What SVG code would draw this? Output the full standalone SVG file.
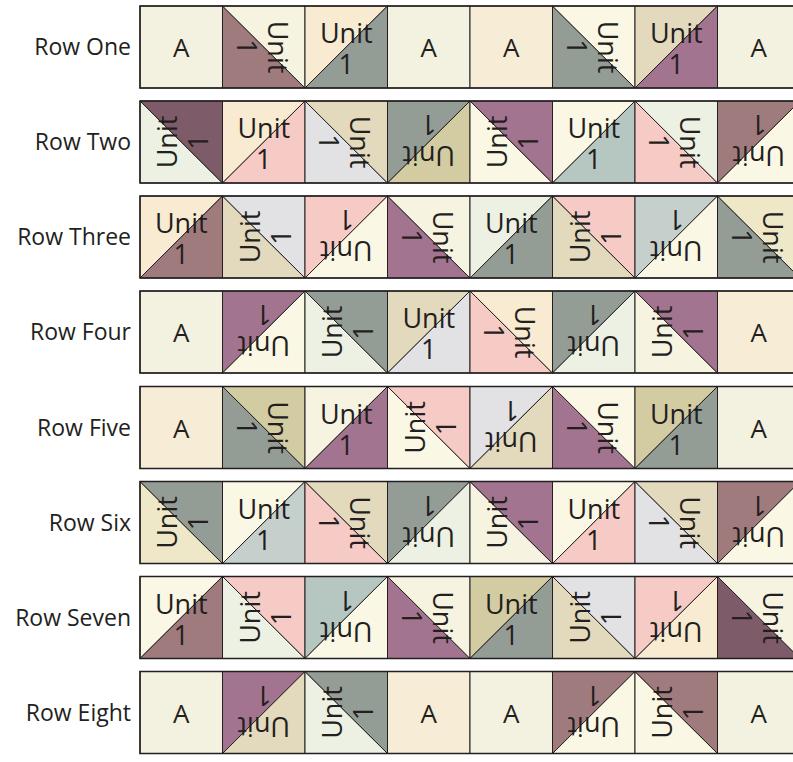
<svg xmlns="http://www.w3.org/2000/svg" width="793" height="762" viewBox="0 0 793 762">
<style>
.p{stroke:#231f20;stroke-width:1;stroke-linejoin:round}
.o{fill:none;stroke:#231f20;stroke-width:1}
.f{fill:none;stroke:#231f20;stroke-width:1.5}
.t{font-family:"Open Sans","Liberation Sans",sans-serif;font-size:27px;text-anchor:middle;fill:#231f20}
.a{font-family:"Open Sans","Liberation Sans",sans-serif;font-size:26px;text-anchor:middle;fill:#231f20}
.l{font-family:"Open Sans","Liberation Sans",sans-serif;font-size:23px;text-anchor:end;fill:#231f20}
.cr{fill:#f3f1df}.pc{fill:#f7ecd6}.mb{fill:#a07b7e}.gg{fill:#939d96}.pu{fill:#a3748f}.dp{fill:#7e5b68}
.tn{fill:#e3d9bc}.kh{fill:#d3cca2}.ly{fill:#faf8e4}.lg{fill:#edf1e3}.pk{fill:#f6cac5}.gr{fill:#e2e2e4}
.sb{fill:#b5c7c0}.gb{fill:#c5d0cd}.pe{fill:#f8ebd1}.lk{fill:#eee7c8}.lc{fill:#f6f3e0}
</style>

<g id="row1" transform="translate(0,6)">
<text class="l" x="131" y="49">Row One</text>
<g id="r1c1" transform="translate(140,0)"><rect class="cr" width="82.5" height="82"/><rect class="o" width="82.5" height="82"/><text class="a" x="41.25" y="51">A</text></g>
<g id="r1c2" transform="translate(222.5,0)"><polygon class="p mb" points="0,0 0,82 82.5,82"/><polygon class="p lc" points="0,0 82.5,0 82.5,82"/><g transform="rotate(90 41.25 41)"><text class="t" x="41.25" y="37">Unit</text><text class="t" x="41.25" y="68">1</text></g></g>
<g id="r1c3" transform="translate(305,0)"><polygon class="p pe" points="0,0 82.5,0 0,82"/><polygon class="p gg" points="82.5,0 82.5,82 0,82"/><text class="t" x="41.25" y="37">Unit</text><text class="t" x="41.25" y="68">1</text></g>
<g id="r1c4" transform="translate(387.5,0)"><rect class="cr" width="82.5" height="82"/><rect class="o" width="82.5" height="82"/><text class="a" x="41.25" y="51">A</text></g>
<g id="r1c5" transform="translate(470,0)"><rect class="pc" width="82.5" height="82"/><rect class="o" width="82.5" height="82"/><text class="a" x="41.25" y="51">A</text></g>
<g id="r1c6" transform="translate(552.5,0)"><polygon class="p gg" points="0,0 0,82 82.5,82"/><polygon class="p ly" points="0,0 82.5,0 82.5,82"/><g transform="rotate(90 41.25 41)"><text class="t" x="41.25" y="37">Unit</text><text class="t" x="41.25" y="68">1</text></g></g>
<g id="r1c7" transform="translate(635,0)"><polygon class="p tn" points="0,0 82.5,0 0,82"/><polygon class="p pu" points="82.5,0 82.5,82 0,82"/><text class="t" x="41.25" y="37">Unit</text><text class="t" x="41.25" y="68">1</text></g>
<g id="r1c8" transform="translate(717.5,0)"><rect class="cr" width="82.5" height="82"/><rect class="o" width="82.5" height="82"/><text class="a" x="41.25" y="51">A</text></g>
<rect class="f" x="140" y="0" width="660" height="82"/>
</g>

<g id="row2" transform="translate(0,101)">
<text class="l" x="131" y="49">Row Two</text>
<g id="r2c1" transform="translate(140,0)"><polygon class="p lg" points="0,0 0,82 82.5,82"/><polygon class="p dp" points="0,0 82.5,0 82.5,82"/><g transform="rotate(-90 41.25 41)"><text class="t" x="41.25" y="37">Unit</text><text class="t" x="41.25" y="68">1</text></g></g>
<g id="r2c2" transform="translate(222.5,0)"><polygon class="p pe" points="0,0 82.5,0 0,82"/><polygon class="p pk" points="82.5,0 82.5,82 0,82"/><text class="t" x="41.25" y="37">Unit</text><text class="t" x="41.25" y="68">1</text></g>
<g id="r2c3" transform="translate(305,0)"><polygon class="p gr" points="0,0 0,82 82.5,82"/><polygon class="p tn" points="0,0 82.5,0 82.5,82"/><g transform="rotate(90 41.25 41)"><text class="t" x="41.25" y="37">Unit</text><text class="t" x="41.25" y="68">1</text></g></g>
<g id="r2c4" transform="translate(387.5,0)"><polygon class="p gg" points="0,0 82.5,0 0,82"/><polygon class="p kh" points="82.5,0 82.5,82 0,82"/><g transform="rotate(180 41.25 41)"><text class="t" x="41.25" y="37">Unit</text><text class="t" x="41.25" y="68">1</text></g></g>
<g id="r2c5" transform="translate(470,0)"><polygon class="p ly" points="0,0 0,82 82.5,82"/><polygon class="p pu" points="0,0 82.5,0 82.5,82"/><g transform="rotate(-90 41.25 41)"><text class="t" x="41.25" y="37">Unit</text><text class="t" x="41.25" y="68">1</text></g></g>
<g id="r2c6" transform="translate(552.5,0)"><polygon class="p ly" points="0,0 82.5,0 0,82"/><polygon class="p sb" points="82.5,0 82.5,82 0,82"/><text class="t" x="41.25" y="37">Unit</text><text class="t" x="41.25" y="68">1</text></g>
<g id="r2c7" transform="translate(635,0)"><polygon class="p pk" points="0,0 0,82 82.5,82"/><polygon class="p lg" points="0,0 82.5,0 82.5,82"/><g transform="rotate(90 41.25 41)"><text class="t" x="41.25" y="37">Unit</text><text class="t" x="41.25" y="68">1</text></g></g>
<g id="r2c8" transform="translate(717.5,0)"><polygon class="p mb" points="0,0 82.5,0 0,82"/><polygon class="p ly" points="82.5,0 82.5,82 0,82"/><g transform="rotate(180 41.25 41)"><text class="t" x="41.25" y="37">Unit</text><text class="t" x="41.25" y="68">1</text></g></g>
<rect class="f" x="140" y="0" width="660" height="82"/>
</g>

<g id="row3" transform="translate(0,196)">
<text class="l" x="131" y="49">Row Three</text>
<g id="r3c1" transform="translate(140,0)"><polygon class="p pe" points="0,0 82.5,0 0,82"/><polygon class="p mb" points="82.5,0 82.5,82 0,82"/><text class="t" x="41.25" y="37">Unit</text><text class="t" x="41.25" y="68">1</text></g>
<g id="r3c2" transform="translate(222.5,0)"><polygon class="p tn" points="0,0 0,82 82.5,82"/><polygon class="p gr" points="0,0 82.5,0 82.5,82"/><g transform="rotate(-90 41.25 41)"><text class="t" x="41.25" y="37">Unit</text><text class="t" x="41.25" y="68">1</text></g></g>
<g id="r3c3" transform="translate(305,0)"><polygon class="p pk" points="0,0 82.5,0 0,82"/><polygon class="p ly" points="82.5,0 82.5,82 0,82"/><g transform="rotate(180 41.25 41)"><text class="t" x="41.25" y="37">Unit</text><text class="t" x="41.25" y="68">1</text></g></g>
<g id="r3c4" transform="translate(387.5,0)"><polygon class="p pu" points="0,0 0,82 82.5,82"/><polygon class="p lc" points="0,0 82.5,0 82.5,82"/><g transform="rotate(90 41.25 41)"><text class="t" x="41.25" y="37">Unit</text><text class="t" x="41.25" y="68">1</text></g></g>
<g id="r3c5" transform="translate(470,0)"><polygon class="p lg" points="0,0 82.5,0 0,82"/><polygon class="p gg" points="82.5,0 82.5,82 0,82"/><text class="t" x="41.25" y="37">Unit</text><text class="t" x="41.25" y="68">1</text></g>
<g id="r3c6" transform="translate(552.5,0)"><polygon class="p tn" points="0,0 0,82 82.5,82"/><polygon class="p pk" points="0,0 82.5,0 82.5,82"/><g transform="rotate(-90 41.25 41)"><text class="t" x="41.25" y="37">Unit</text><text class="t" x="41.25" y="68">1</text></g></g>
<g id="r3c7" transform="translate(635,0)"><polygon class="p gb" points="0,0 82.5,0 0,82"/><polygon class="p ly" points="82.5,0 82.5,82 0,82"/><g transform="rotate(180 41.25 41)"><text class="t" x="41.25" y="37">Unit</text><text class="t" x="41.25" y="68">1</text></g></g>
<g id="r3c8" transform="translate(717.5,0)"><polygon class="p gg" points="0,0 0,82 82.5,82"/><polygon class="p lk" points="0,0 82.5,0 82.5,82"/><g transform="rotate(90 41.25 41)"><text class="t" x="41.25" y="37">Unit</text><text class="t" x="41.25" y="68">1</text></g></g>
<rect class="f" x="140" y="0" width="660" height="82"/>
</g>

<g id="row4" transform="translate(0,291)">
<text class="l" x="131" y="49">Row Four</text>
<g id="r4c1" transform="translate(140,0)"><rect class="cr" width="82.5" height="82"/><rect class="o" width="82.5" height="82"/><text class="a" x="41.25" y="51">A</text></g>
<g id="r4c2" transform="translate(222.5,0)"><polygon class="p pu" points="0,0 82.5,0 0,82"/><polygon class="p ly" points="82.5,0 82.5,82 0,82"/><g transform="rotate(180 41.25 41)"><text class="t" x="41.25" y="37">Unit</text><text class="t" x="41.25" y="68">1</text></g></g>
<g id="r4c3" transform="translate(305,0)"><polygon class="p lg" points="0,0 0,82 82.5,82"/><polygon class="p gg" points="0,0 82.5,0 82.5,82"/><g transform="rotate(-90 41.25 41)"><text class="t" x="41.25" y="37">Unit</text><text class="t" x="41.25" y="68">1</text></g></g>
<g id="r4c4" transform="translate(387.5,0)"><polygon class="p tn" points="0,0 82.5,0 0,82"/><polygon class="p gr" points="82.5,0 82.5,82 0,82"/><text class="t" x="41.25" y="37">Unit</text><text class="t" x="41.25" y="68">1</text></g>
<g id="r4c5" transform="translate(470,0)"><polygon class="p pk" points="0,0 0,82 82.5,82"/><polygon class="p pe" points="0,0 82.5,0 82.5,82"/><g transform="rotate(90 41.25 41)"><text class="t" x="41.25" y="37">Unit</text><text class="t" x="41.25" y="68">1</text></g></g>
<g id="r4c6" transform="translate(552.5,0)"><polygon class="p gg" points="0,0 82.5,0 0,82"/><polygon class="p lg" points="82.5,0 82.5,82 0,82"/><g transform="rotate(180 41.25 41)"><text class="t" x="41.25" y="37">Unit</text><text class="t" x="41.25" y="68">1</text></g></g>
<g id="r4c7" transform="translate(635,0)"><polygon class="p lc" points="0,0 0,82 82.5,82"/><polygon class="p pu" points="0,0 82.5,0 82.5,82"/><g transform="rotate(-90 41.25 41)"><text class="t" x="41.25" y="37">Unit</text><text class="t" x="41.25" y="68">1</text></g></g>
<g id="r4c8" transform="translate(717.5,0)"><rect class="pc" width="82.5" height="82"/><rect class="o" width="82.5" height="82"/><text class="a" x="41.25" y="51">A</text></g>
<rect class="f" x="140" y="0" width="660" height="82"/>
</g>

<g id="row5" transform="translate(0,386.5)">
<text class="l" x="131" y="49">Row Five</text>
<g id="r5c1" transform="translate(140,0)"><rect class="pc" width="82.5" height="82"/><rect class="o" width="82.5" height="82"/><text class="a" x="41.25" y="51">A</text></g>
<g id="r5c2" transform="translate(222.5,0)"><polygon class="p gg" points="0,0 0,82 82.5,82"/><polygon class="p kh" points="0,0 82.5,0 82.5,82"/><g transform="rotate(90 41.25 41)"><text class="t" x="41.25" y="37">Unit</text><text class="t" x="41.25" y="68">1</text></g></g>
<g id="r5c3" transform="translate(305,0)"><polygon class="p lc" points="0,0 82.5,0 0,82"/><polygon class="p pu" points="82.5,0 82.5,82 0,82"/><text class="t" x="41.25" y="37">Unit</text><text class="t" x="41.25" y="68">1</text></g>
<g id="r5c4" transform="translate(387.5,0)"><polygon class="p ly" points="0,0 0,82 82.5,82"/><polygon class="p pk" points="0,0 82.5,0 82.5,82"/><g transform="rotate(-90 41.25 41)"><text class="t" x="41.25" y="37">Unit</text><text class="t" x="41.25" y="68">1</text></g></g>
<g id="r5c5" transform="translate(470,0)"><polygon class="p gr" points="0,0 82.5,0 0,82"/><polygon class="p tn" points="82.5,0 82.5,82 0,82"/><g transform="rotate(180 41.25 41)"><text class="t" x="41.25" y="37">Unit</text><text class="t" x="41.25" y="68">1</text></g></g>
<g id="r5c6" transform="translate(552.5,0)"><polygon class="p pu" points="0,0 0,82 82.5,82"/><polygon class="p ly" points="0,0 82.5,0 82.5,82"/><g transform="rotate(90 41.25 41)"><text class="t" x="41.25" y="37">Unit</text><text class="t" x="41.25" y="68">1</text></g></g>
<g id="r5c7" transform="translate(635,0)"><polygon class="p kh" points="0,0 82.5,0 0,82"/><polygon class="p gg" points="82.5,0 82.5,82 0,82"/><text class="t" x="41.25" y="37">Unit</text><text class="t" x="41.25" y="68">1</text></g>
<g id="r5c8" transform="translate(717.5,0)"><rect class="cr" width="82.5" height="82"/><rect class="o" width="82.5" height="82"/><text class="a" x="41.25" y="51">A</text></g>
<rect class="f" x="140" y="0" width="660" height="82"/>
</g>

<g id="row6" transform="translate(0,481.5)">
<text class="l" x="131" y="49">Row Six</text>
<g id="r6c1" transform="translate(140,0)"><polygon class="p lk" points="0,0 0,82 82.5,82"/><polygon class="p gg" points="0,0 82.5,0 82.5,82"/><g transform="rotate(-90 41.25 41)"><text class="t" x="41.25" y="37">Unit</text><text class="t" x="41.25" y="68">1</text></g></g>
<g id="r6c2" transform="translate(222.5,0)"><polygon class="p ly" points="0,0 82.5,0 0,82"/><polygon class="p gb" points="82.5,0 82.5,82 0,82"/><text class="t" x="41.25" y="37">Unit</text><text class="t" x="41.25" y="68">1</text></g>
<g id="r6c3" transform="translate(305,0)"><polygon class="p pk" points="0,0 0,82 82.5,82"/><polygon class="p tn" points="0,0 82.5,0 82.5,82"/><g transform="rotate(90 41.25 41)"><text class="t" x="41.25" y="37">Unit</text><text class="t" x="41.25" y="68">1</text></g></g>
<g id="r6c4" transform="translate(387.5,0)"><polygon class="p gg" points="0,0 82.5,0 0,82"/><polygon class="p lg" points="82.5,0 82.5,82 0,82"/><g transform="rotate(180 41.25 41)"><text class="t" x="41.25" y="37">Unit</text><text class="t" x="41.25" y="68">1</text></g></g>
<g id="r6c5" transform="translate(470,0)"><polygon class="p lc" points="0,0 0,82 82.5,82"/><polygon class="p pu" points="0,0 82.5,0 82.5,82"/><g transform="rotate(-90 41.25 41)"><text class="t" x="41.25" y="37">Unit</text><text class="t" x="41.25" y="68">1</text></g></g>
<g id="r6c6" transform="translate(552.5,0)"><polygon class="p ly" points="0,0 82.5,0 0,82"/><polygon class="p pk" points="82.5,0 82.5,82 0,82"/><text class="t" x="41.25" y="37">Unit</text><text class="t" x="41.25" y="68">1</text></g>
<g id="r6c7" transform="translate(635,0)"><polygon class="p gr" points="0,0 0,82 82.5,82"/><polygon class="p tn" points="0,0 82.5,0 82.5,82"/><g transform="rotate(90 41.25 41)"><text class="t" x="41.25" y="37">Unit</text><text class="t" x="41.25" y="68">1</text></g></g>
<g id="r6c8" transform="translate(717.5,0)"><polygon class="p mb" points="0,0 82.5,0 0,82"/><polygon class="p ly" points="82.5,0 82.5,82 0,82"/><g transform="rotate(180 41.25 41)"><text class="t" x="41.25" y="37">Unit</text><text class="t" x="41.25" y="68">1</text></g></g>
<rect class="f" x="140" y="0" width="660" height="82"/>
</g>

<g id="row7" transform="translate(0,576.5)">
<text class="l" x="131" y="49">Row Seven</text>
<g id="r7c1" transform="translate(140,0)"><polygon class="p ly" points="0,0 82.5,0 0,82"/><polygon class="p mb" points="82.5,0 82.5,82 0,82"/><text class="t" x="41.25" y="37">Unit</text><text class="t" x="41.25" y="68">1</text></g>
<g id="r7c2" transform="translate(222.5,0)"><polygon class="p lg" points="0,0 0,82 82.5,82"/><polygon class="p pk" points="0,0 82.5,0 82.5,82"/><g transform="rotate(-90 41.25 41)"><text class="t" x="41.25" y="37">Unit</text><text class="t" x="41.25" y="68">1</text></g></g>
<g id="r7c3" transform="translate(305,0)"><polygon class="p sb" points="0,0 82.5,0 0,82"/><polygon class="p ly" points="82.5,0 82.5,82 0,82"/><g transform="rotate(180 41.25 41)"><text class="t" x="41.25" y="37">Unit</text><text class="t" x="41.25" y="68">1</text></g></g>
<g id="r7c4" transform="translate(387.5,0)"><polygon class="p pu" points="0,0 0,82 82.5,82"/><polygon class="p lc" points="0,0 82.5,0 82.5,82"/><g transform="rotate(90 41.25 41)"><text class="t" x="41.25" y="37">Unit</text><text class="t" x="41.25" y="68">1</text></g></g>
<g id="r7c5" transform="translate(470,0)"><polygon class="p kh" points="0,0 82.5,0 0,82"/><polygon class="p gg" points="82.5,0 82.5,82 0,82"/><text class="t" x="41.25" y="37">Unit</text><text class="t" x="41.25" y="68">1</text></g>
<g id="r7c6" transform="translate(552.5,0)"><polygon class="p tn" points="0,0 0,82 82.5,82"/><polygon class="p gr" points="0,0 82.5,0 82.5,82"/><g transform="rotate(-90 41.25 41)"><text class="t" x="41.25" y="37">Unit</text><text class="t" x="41.25" y="68">1</text></g></g>
<g id="r7c7" transform="translate(635,0)"><polygon class="p pk" points="0,0 82.5,0 0,82"/><polygon class="p pe" points="82.5,0 82.5,82 0,82"/><g transform="rotate(180 41.25 41)"><text class="t" x="41.25" y="37">Unit</text><text class="t" x="41.25" y="68">1</text></g></g>
<g id="r7c8" transform="translate(717.5,0)"><polygon class="p dp" points="0,0 0,82 82.5,82"/><polygon class="p lc" points="0,0 82.5,0 82.5,82"/><g transform="rotate(90 41.25 41)"><text class="t" x="41.25" y="37">Unit</text><text class="t" x="41.25" y="68">1</text></g></g>
<rect class="f" x="140" y="0" width="660" height="82"/>
</g>

<g id="row8" transform="translate(0,671.5)">
<text class="l" x="131" y="49">Row Eight</text>
<g id="r8c1" transform="translate(140,0)"><rect class="cr" width="82.5" height="82"/><rect class="o" width="82.5" height="82"/><text class="a" x="41.25" y="51">A</text></g>
<g id="r8c2" transform="translate(222.5,0)"><polygon class="p pu" points="0,0 82.5,0 0,82"/><polygon class="p tn" points="82.5,0 82.5,82 0,82"/><g transform="rotate(180 41.25 41)"><text class="t" x="41.25" y="37">Unit</text><text class="t" x="41.25" y="68">1</text></g></g>
<g id="r8c3" transform="translate(305,0)"><polygon class="p lg" points="0,0 0,82 82.5,82"/><polygon class="p gg" points="0,0 82.5,0 82.5,82"/><g transform="rotate(-90 41.25 41)"><text class="t" x="41.25" y="37">Unit</text><text class="t" x="41.25" y="68">1</text></g></g>
<g id="r8c4" transform="translate(387.5,0)"><rect class="pc" width="82.5" height="82"/><rect class="o" width="82.5" height="82"/><text class="a" x="41.25" y="51">A</text></g>
<g id="r8c5" transform="translate(470,0)"><rect class="cr" width="82.5" height="82"/><rect class="o" width="82.5" height="82"/><text class="a" x="41.25" y="51">A</text></g>
<g id="r8c6" transform="translate(552.5,0)"><polygon class="p mb" points="0,0 82.5,0 0,82"/><polygon class="p ly" points="82.5,0 82.5,82 0,82"/><g transform="rotate(180 41.25 41)"><text class="t" x="41.25" y="37">Unit</text><text class="t" x="41.25" y="68">1</text></g></g>
<g id="r8c7" transform="translate(635,0)"><polygon class="p ly" points="0,0 0,82 82.5,82"/><polygon class="p mb" points="0,0 82.5,0 82.5,82"/><g transform="rotate(-90 41.25 41)"><text class="t" x="41.25" y="37">Unit</text><text class="t" x="41.25" y="68">1</text></g></g>
<g id="r8c8" transform="translate(717.5,0)"><rect class="cr" width="82.5" height="82"/><rect class="o" width="82.5" height="82"/><text class="a" x="41.25" y="51">A</text></g>
<rect class="f" x="140" y="0" width="660" height="82"/>
</g>
</svg>
